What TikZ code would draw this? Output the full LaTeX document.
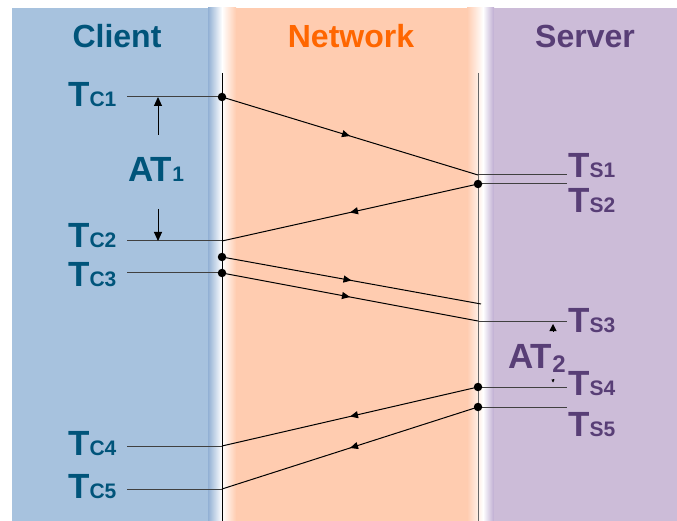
\documentclass[tikz,border=0pt]{standalone}
\usepackage{fontspec}
\setmainfont{Liberation Sans}
\usetikzlibrary{arrows.meta,decorations.markings}

\definecolor{clientbg}{RGB}{167,194,222}
\definecolor{clientedge}{RGB}{146,176,212}
\definecolor{netbg}{RGB}{255,204,176}
\definecolor{serverbg}{RGB}{204,188,216}
\definecolor{serveredge}{RGB}{190,172,210}
\definecolor{clientfg}{RGB}{0,84,122}
\definecolor{netfg}{RGB}{255,102,0}
\definecolor{serverfg}{RGB}{88,62,118}

\newcommand{\tlab}[1]{T{\fontsize{21}{21}\selectfont #1}}

\tikzset{
  bandtitle/.style={font=\bfseries\fontsize{32}{32}\selectfont, inner sep=0pt, anchor=base},
  stamp/.style={font=\bfseries\fontsize{35}{35}\selectfont, inner sep=0pt, anchor=base west},
  tick/.style={line width=1pt, black!75},
  msg/.style={line width=1pt, postaction={decorate},
    decoration={markings, mark=at position 0.5 with {\arrow{Triangle[length=8pt,width=7pt]}}}},
  event/.style={circle, fill=black, inner sep=0pt, minimum size=8.5pt},
  atarrow/.style={line width=1pt, -{Triangle[length=9pt,width=8pt]}},
}

\begin{document}
\begin{tikzpicture}[x=1pt,y=-1pt]
\useasboundingbox (0,0) rectangle (677,521);

% bands
\fill[clientbg] (12,8) rectangle (208,521);
\shade[left color=clientedge, right color=white] (208,8) rectangle (222,521);
\shade[left color=white, right color=netbg] (222,8) rectangle (236,521);
\fill[netbg] (236,8) rectangle (467,521);
\shade[left color=netbg, right color=white] (467,8) rectangle (483,521);
\shade[left color=white, right color=serveredge] (483,8) rectangle (494,521);
\fill[serverbg] (494,8) rectangle (677,521);

\node[bandtitle, clientfg] (client) at (117,48) {Client};
\node[bandtitle, netfg] (network) at (351,48) {Network};
\node[bandtitle, serverfg] (server) at (585,48) {Server};

% time lines
\coordinate (ctop) at (222,73);
\coordinate (cbot) at (222,521);
\coordinate (stop) at (478,73);
\coordinate (sbot) at (478,521);
\draw[line width=1pt] (ctop) -- (cbot);
\draw[line width=1pt, black!60] (stop) -- (sbot);

% client and server instants
\foreach \n/\y in {1/97,2/241,3/273,4/446,5/489}{
  \coordinate (c\n) at (222,\y);
  \coordinate (hc\n) at (127,\y);
  \draw[tick] (hc\n) -- (c\n);
}
\foreach \n/\y in {1/175,2/184,3/321,4/387,5/407}{
  \coordinate (s\n) at (478,\y);
  \coordinate (hs\n) at (567,\y);
  \draw[tick] (s\n) -- (hs\n);
}
\coordinate (c0) at (222,257);
\coordinate (s0) at (481,304);

% messages
\draw[msg] (c1) -- (s1);
\draw[msg] (s2) -- (c2);
\draw[msg] (c0) -- (s0);
\draw[msg] (c3) -- (s3);
\draw[msg] (s4) -- (c4);
\draw[msg] (s5) -- (c5);

\foreach \p in {c1,s2,c0,c3,s4,s5}
  \node[event] at (\p) {};

% labels
\node[stamp, clientfg] (tc1) at (68,107) {\tlab{C1}};
\node[stamp, clientfg] (tc2) at (68,248) {\tlab{C2}};
\node[stamp, clientfg] (tc3) at (68,287) {\tlab{C3}};
\node[stamp, clientfg] (tc4) at (68,455) {\tlab{C4}};
\node[stamp, clientfg] (tc5) at (68,498) {\tlab{C5}};
\node[stamp, serverfg] (ts1) at (568,178) {\tlab{S1}};
\node[stamp, serverfg] (ts2) at (568,213) {\tlab{S2}};
\node[stamp, serverfg] (ts3) at (568,332) {\tlab{S3}};
\node[stamp, serverfg] (ts4) at (568,395) {\tlab{S4}};
\node[stamp, serverfg] (ts5) at (568,436) {\tlab{S5}};

% AT1 and AT2
\node[stamp, clientfg] (at1) at (128,182) {AT{\fontsize{21}{21}\selectfont 1}};
\coordinate (at1up) at (158,97);
\coordinate (at1dn) at (158,241);
\draw[atarrow] (158,135) -- (at1up);
\draw[atarrow] (158,209) -- (at1dn);

\node[stamp, serverfg] (at2) at (508,368) {AT\raisebox{-4pt}{\fontsize{24}{24}\selectfont 2}};
\draw[line width=0.5pt, -{Triangle[length=7pt,width=7pt]}] (553,331.5) -- (553,324);
\draw[line width=0.3pt, -{Triangle[length=3pt,width=3pt]}] (553,379) -- (553,382.5);
\end{tikzpicture}
\end{document}
